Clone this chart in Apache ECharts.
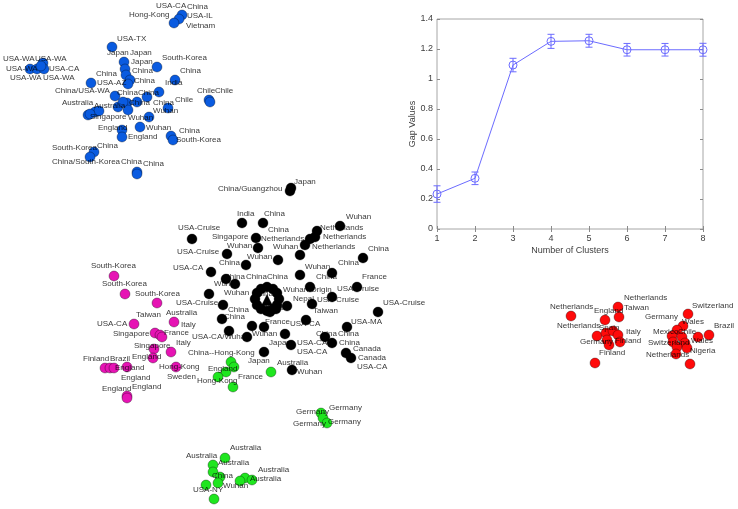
<!DOCTYPE html>
<html>
<head>
<meta charset="utf-8">
<script src="https://cdn.jsdelivr.net/npm/echarts@6/dist/echarts.min.js"></script>
<style>html,body{margin:0;padding:0;background:#fff}#c{width:738px;height:509px}</style>
</head>
<body>
<div id="c"></div>
<script>
// ---- cluster map (positions, in map units) ----
const bluePoints = [[182,15],[179,19],[174,23],[112,47],[124,62],[125,69],[126,75],[130,80],[128,84],
  [157,67],[175,80],[159,92],[147,97],[115,96],[91,83],[30,69],[37,69],[43,63],[44,69],[41,66],
  [209,100],[210,102],[127,103],[118,107],[128,110],[137,102],[123,102],[88,115],[95,112],[99,111],[90,114],
  [168,108],[149,117],[140,127],[122,130],[122,137],[171,136],[173,140],[94,152],[90,157],[137,172],[137,174]];
const blackPoints = [[290,191],[291,188],[242,223],[263,223],[192,239],[256,238],[258,248],[227,254],[278,260],
  [246,265],[211,272],[226,279],[235,284],[340,226],[317,231],[315,237],[310,239],[305,245],[300,255],
  [363,258],[332,273],[300,275],[310,287],[357,287],[332,297],[312,304],[287,306],[378,312],
  [209,294],[223,305],[222,319],[306,320],[347,327],[325,337],[332,343],[291,345],[346,353],[351,358],[292,370],
  [264,352],[229,331],[247,337],[264,327],[252,326],[285,334]];
const ringPoints = [[279,299],[277,305],[273,309],[267,311],[261,309],[257,305],[255,299],[257,293],[261,289],
  [267,287],[273,289],[277,293],[270,312],[276,309]];
const centerPoint = [[267,300]];
const magentaPoints = [[114,276],[125,294],[157,303],[174,322],[134,324],[155,333],[160,335],[162,337],[154,349],
  [171,352],[153,358],[105,368],[110,368],[114,368],[127,367],[176,367],[127,396],[127,398]];
const greenPoints = [[231,362],[234,367],[226,372],[218,377],[233,387],[271,372],[321,413],[323,418],[327,423],
  [225,458],[213,465],[213,472],[220,477],[245,478],[252,480],[240,481],[218,483],[206,485],[214,499]];
const redPoints = [[571,316],[618,307],[619,317],[605,320],[597,336],[606,333],[613,331],[618,335],[607,340],
  [620,342],[609,345],[595,363],[688,314],[683,326],[709,335],[677,330],[672,336],[682,337],[698,337],
  [673,342],[685,343],[677,347],[687,348],[676,354],[690,364]];
const mapLabels = [
  [156,6,'USA-CA'],[187,7,'China'],[187,16,'USA-IL'],[186,26,'Vietnam'],[129,15,'Hong-Kong'],
  [117,39,'USA-TX'],[107,53,'Japan'],[130,53,'Japan'],[131,62,'Japan'],[162,58,'South-Korea'],
  [132,71,'China'],[180,71,'China'],[96,74,'China'],[134,81,'China'],[97,83,'USA-AZ'],[165,83,'India'],
  [197,91,'Chile'],[215,91,'Chile'],[55,91,'China/USA-WA'],[117,93,'China'],[138,93,'China'],[175,100,'Chile'],
  [153,103,'China'],[129,103,'China'],[62,103,'Australia'],[94,106,'Australia'],[153,111,'Wuhan'],
  [90,117,'Singapore'],[128,118,'Wuhan'],[98,128,'England'],[146,128,'Wuhan'],[128,137,'England'],
  [179,131,'China'],[176,140,'South-Korea'],[97,146,'China'],[52,148,'South-Korea'],[52,162,'China/South-Korea'],
  [121,162,'China'],[143,164,'China'],[3,59,'USA-WA'],[35,59,'USA-WA'],[6,69,'USA-WA'],[49,69,'USA-CA'],
  [10,78,'USA-WA'],[43,78,'USA-WA'],
  [294,182,'Japan'],[218,189,'China/Guangzhou'],[237,214,'India'],[264,214,'China'],[178,228,'USA-Cruise'],
  [268,230,'China'],[212,237,'Singapore'],[261,239,'Netherlands'],[227,246,'Wuhan'],[273,247,'Wuhan'],
  [177,252,'USA-Cruise'],[247,257,'Wuhan'],[219,263,'China'],[173,268,'USA-CA'],[224,277,'China'],
  [246,277,'China'],[267,277,'China'],[214,284,'Wuhan'],[224,293,'Wuhan'],[252,294,'China'],[283,290,'Wuhan Origin'],
  [346,217,'Wuhan'],[320,228,'Netherlands'],[323,237,'Netherlands'],[312,247,'Netherlands'],[368,249,'China'],
  [338,263,'China'],[305,267,'Wuhan'],[316,277,'China'],[362,277,'France'],[337,289,'USA-Cruise'],
  [317,300,'USA-Cruise'],[293,299,'Nepal'],[313,311,'Taiwan'],[383,303,'USA-Cruise'],[176,303,'USA-Cruise'],
  [228,310,'China'],[262,308,'China'],[224,317,'China'],[265,322,'France'],[290,324,'USA-CA'],[351,322,'USA-MA'],
  [316,334,'China'],[338,334,'China'],[339,343,'China'],[297,343,'USA-CA'],[297,352,'USA-CA'],
  [353,349,'Canada'],[358,358,'Canada'],[357,367,'USA-CA'],[297,372,'Wuhan'],[269,343,'Japan'],
  [188,353,'China--Hong-Kong'],[248,361,'Japan'],[192,337,'USA-CA/Wuhan'],[252,334,'Wuhan'],
  [91,266,'South-Korea'],[102,284,'South-Korea'],[135,294,'South-Korea'],[136,315,'Taiwan'],[166,313,'Australia'],
  [97,324,'USA-CA'],[181,325,'Italy'],[113,334,'Singapore'],[164,333,'France'],[134,346,'Singapore'],
  [176,343,'Italy'],[132,357,'England'],[83,359,'Finland'],[110,359,'Brazil'],[115,368,'England'],
  [159,367,'Hong-Kong'],[121,378,'England'],[167,377,'Sweden'],[102,389,'England'],[132,387,'England'],
  [208,369,'England'],[197,381,'Hong-Kong'],[238,377,'France'],[277,363,'Australia'],
  [296,412,'Germany'],[329,408,'Germany'],[293,424,'Germany'],[328,422,'Germany'],
  [230,448,'Australia'],[186,456,'Australia'],[218,463,'Australia'],[258,470,'Australia'],[250,479,'Australia'],
  [212,476,'China'],[223,486,'Wuhan'],[193,490,'USA-NY'],
  [550,307,'Netherlands'],[624,298,'Netherlands'],[624,308,'Taiwan'],[594,311,'England'],[557,326,'Netherlands'],
  [599,328,'Spain'],[626,332,'Italy'],[580,342,'Germany'],[615,341,'Finland'],[599,353,'Finland'],
  [692,306,'Switzerland'],[645,317,'Germany'],[682,322,'Wales'],[714,326,'Brazil'],[653,332,'Mexico'],
  [678,332,'Chile'],[691,341,'Wales'],[648,343,'Switzerland'],[690,351,'Nigeria'],[646,355,'Netherlands']
];

// ---- gap statistic inset ----
const clusterCounts = [1,2,3,4,5,6,7,8];
const gapValues = [0.233,0.338,1.093,1.251,1.255,1.195,1.195,1.195];
const gapErrors = [0.055,0.042,0.045,0.047,0.043,0.042,0.042,0.043];

const FONT = '"Liberation Sans", Arial, sans-serif';
const lineBlue = '#6b6bff';
const tickGray = '#8a8a8a';

function pointSeries(data, color, symbol, size) {
  return {
    type: 'scatter', xAxisIndex: 0, yAxisIndex: 0, data: data,
    symbol: symbol || 'circle', symbolSize: size || 10, silent: true, z: 3,
    itemStyle: { color: color, borderColor: 'rgba(0,0,0,0.55)', borderWidth: 0.6, opacity: 1 }
  };
}

const chart = echarts.init(document.getElementById('c'), null, { renderer: 'canvas' });
chart.setOption({
  animation: false,
  backgroundColor: '#ffffff',
  grid: [
    { left: 0, right: 0, top: 0, bottom: 0 },
    { left: 437, right: 35, top: 19, bottom: 280, show: true, borderColor: '#a6a6a6', borderWidth: 1, backgroundColor: 'transparent' }
  ],
  xAxis: [
    { gridIndex: 0, type: 'value', min: 0, max: 738, show: false },
    { gridIndex: 1, type: 'value', min: 1, max: 8, interval: 1,
      axisLine: { show: false }, splitLine: { show: false },
      axisTick: { inside: true, length: 3, lineStyle: { color: tickGray } },
      axisLabel: { margin: 5, color: '#404040', fontFamily: FONT, fontSize: 9 },
      name: 'Number of Clusters', nameLocation: 'middle', nameGap: 17,
      nameTextStyle: { color: '#404040', fontFamily: FONT, fontSize: 9 } },
    { gridIndex: 1, type: 'value', min: 1, max: 8, interval: 1, position: 'top',
      axisLine: { show: false }, splitLine: { show: false }, axisLabel: { show: false },
      axisTick: { inside: true, length: 3, lineStyle: { color: tickGray } } }
  ],
  yAxis: [
    { gridIndex: 0, type: 'value', min: 0, max: 509, inverse: true, show: false },
    { gridIndex: 1, type: 'value', min: 0, max: 1.4, interval: 0.2,
      axisLine: { show: false }, splitLine: { show: false },
      axisTick: { inside: true, length: 3, lineStyle: { color: tickGray } },
      axisLabel: { margin: 4, color: '#404040', fontFamily: FONT, fontSize: 9 },
      name: 'Gap Values', nameLocation: 'middle', nameGap: 18,
      nameTextStyle: { color: '#404040', fontFamily: FONT, fontSize: 9 } },
    { gridIndex: 1, type: 'value', min: 0, max: 1.4, interval: 0.2, position: 'right',
      axisLine: { show: false }, splitLine: { show: false }, axisLabel: { show: false },
      axisTick: { inside: true, length: 3, lineStyle: { color: tickGray } } }
  ],
  series: [
    pointSeries(bluePoints, '#0a5be0'),
    pointSeries(blackPoints, '#000000'),
    pointSeries(ringPoints, '#000000'),
    pointSeries(centerPoint, '#000000', 'triangle', 11),
    pointSeries(magentaPoints, '#e614b4'),
    pointSeries(greenPoints, '#1fe61f'),
    pointSeries(redPoints, '#ff0a0a'),
    {
      type: 'scatter', xAxisIndex: 0, yAxisIndex: 0, silent: true, z: 5,
      data: mapLabels.map(function (d) { return { value: [d[0], d[1]], name: d[2] }; }),
      symbolSize: 1, itemStyle: { color: 'rgba(0,0,0,0)' },
      label: { show: true, position: 'inside', align: 'left', verticalAlign: 'middle',
        formatter: '{b}', color: '#000', fontFamily: FONT, fontSize: 8 }
    },
    {
      type: 'line', xAxisIndex: 1, yAxisIndex: 1, silent: true, z: 4,
      data: clusterCounts.map(function (k, i) { return [k, gapValues[i]]; }),
      symbol: 'circle', symbolSize: 8, showSymbol: true,
      lineStyle: { color: lineBlue, width: 1 },
      itemStyle: { color: 'rgba(0,0,0,0)', borderColor: lineBlue, borderWidth: 1 }
    },
    {
      type: 'custom', xAxisIndex: 1, yAxisIndex: 1, silent: true, z: 4,
      data: clusterCounts.map(function (k, i) { return [k, gapValues[i] - gapErrors[i], gapValues[i] + gapErrors[i]]; }),
      renderItem: function (params, api) {
        const lo = api.coord([api.value(0), api.value(1)]);
        const hi = api.coord([api.value(0), api.value(2)]);
        const w = 3.5;
        const st = { stroke: lineBlue, lineWidth: 1 };
        return { type: 'group', children: [
          { type: 'line', shape: { x1: lo[0], y1: lo[1], x2: hi[0], y2: hi[1] }, style: st },
          { type: 'line', shape: { x1: lo[0] - w, y1: lo[1], x2: lo[0] + w, y2: lo[1] }, style: st },
          { type: 'line', shape: { x1: hi[0] - w, y1: hi[1], x2: hi[0] + w, y2: hi[1] }, style: st }
        ] };
      }
    }
  ]
});
</script>
</body>
</html>
